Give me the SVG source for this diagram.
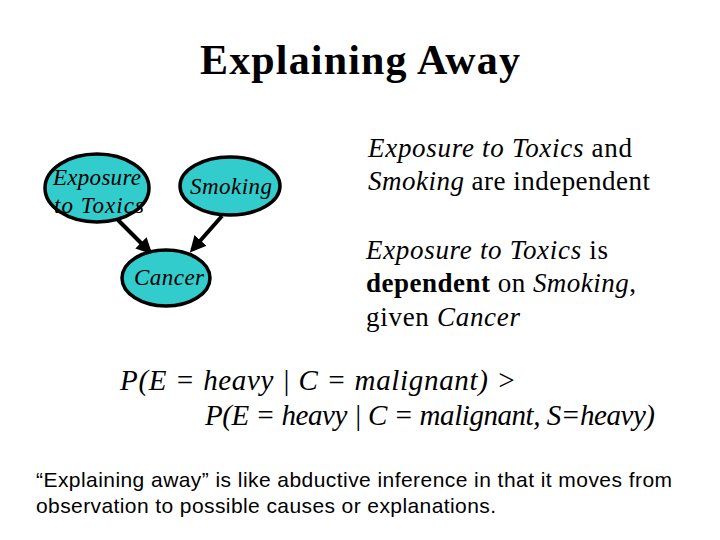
<svg xmlns="http://www.w3.org/2000/svg" width="720" height="540" viewBox="0 0 720 540">
<style>
.n{fill:#33CCCC;stroke:#000;stroke-width:3.5}
.nt{font-family:"Liberation Serif",serif;font-style:italic;font-size:23px;text-anchor:middle}
.t{font-family:"Liberation Serif",serif;font-size:27px}
.p{font-family:"Liberation Serif",serif;font-size:29px;font-style:italic}
.s{font-family:"Liberation Sans",sans-serif;font-size:21px}
.c{stroke:#000;stroke-width:4;fill:none;marker-end:url(#a)}
</style>
<defs><marker id="a" markerWidth="4" markerHeight="4" refX="3.2" refY="2" orient="auto"><path d="M0,0L4,2L0,4z"/></marker></defs>
<rect width="720" height="540" fill="#fff"/>
<text x="200" y="74" textLength="320" font-family="Liberation Serif,serif" font-size="42" font-weight="bold">Explaining Away</text>
<g id="connectors">
<line class="c" x1="118" y1="220" x2="150" y2="252"/>
<line class="c" x1="222" y1="216" x2="192" y2="250"/>
</g>
<g id="exposure"><ellipse class="n" cx="97" cy="188" rx="52" ry="34"/><text class="nt" x="97" y="185" textLength="88">Exposure</text><text class="nt" x="99" y="213" textLength="90">to Toxics</text></g>
<g id="smoking"><ellipse class="n" cx="230" cy="186" rx="50" ry="29"/><text class="nt" x="231" y="194" textLength="82">Smoking</text></g>
<g id="cancer"><ellipse class="n" cx="166" cy="278" rx="44" ry="28"/><text class="nt" x="169" y="285" textLength="70">Cancer</text></g>
<text class="t" x="368" y="157" textLength="264"><tspan font-style="italic">Exposure to Toxics</tspan> and</text>
<text class="t" x="368" y="190" textLength="282"><tspan font-style="italic">Smoking</tspan> are independent</text>
<text class="t" x="366" y="259" textLength="242"><tspan font-style="italic">Exposure to Toxics</tspan> is</text>
<text class="t" x="366" y="292" textLength="270"><tspan font-weight="bold">dependent</tspan> on <tspan font-style="italic">Smoking</tspan>,</text>
<text class="t" x="366" y="326" textLength="154">given <tspan font-style="italic">Cancer</tspan></text>
<text class="p" x="120" y="390" textLength="396">P(E = heavy | C = malignant) &gt;</text>
<text class="p" x="205" y="425" textLength="450">P(E = heavy | C = malignant, S=heavy)</text>
<text class="s" x="36" y="487" textLength="636">“Explaining away” is like abductive inference in that it moves from</text>
<text class="s" x="36" y="513" textLength="460">observation to possible causes or explanations.</text>
</svg>
